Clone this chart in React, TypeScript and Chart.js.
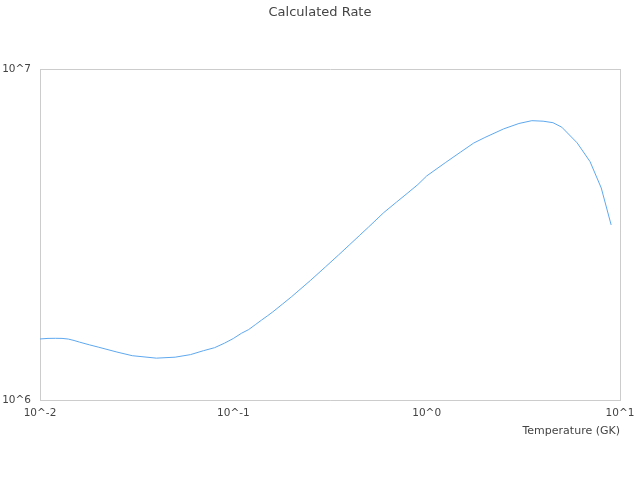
import { Chart, registerables } from "chart.js";
import { useEffect, useRef } from "react";

Chart.register(...registerables);

// temperature grid (GK) and the rate at each point
const temperatures = [
  0.01, 0.011, 0.012, 0.013, 0.014, 0.015, 0.016, 0.018, 0.02, 0.025, 0.03,
  0.04, 0.05, 0.06, 0.07, 0.08, 0.09, 0.1, 0.11, 0.12, 0.13, 0.14, 0.15, 0.16,
  0.18, 0.2, 0.25, 0.3, 0.35, 0.4, 0.45, 0.5, 0.6, 0.7, 0.8, 0.9, 1, 1.25,
  1.5, 1.75, 2, 2.5, 3, 3.5, 4, 4.5, 5, 6, 7, 8, 9,
];
const rates = [
  1.529e6, 1.535e6, 1.536e6, 1.535e6, 1.528e6, 1.513e6, 1.496e6, 1.468e6,
  1.445e6, 1.396e6, 1.361e6, 1.338e6, 1.347e6, 1.371e6, 1.409e6, 1.439e6,
  1.485e6, 1.534e6, 1.59e6, 1.632e6, 1.689e6, 1.744e6, 1.795e6, 1.846e6,
  1.951e6, 2.051e6, 2.295e6, 2.526e6, 2.742e6, 2.948e6, 3.143e6, 3.329e6,
  3.683e6, 3.967e6, 4.227e6, 4.475e6, 4.751e6, 5.214e6, 5.614e6, 5.973e6,
  6.21e6, 6.592e6, 6.845e6, 6.98e6, 6.956e6, 6.884e6, 6.671e6, 5.984e6,
  5.25e6, 4.37e6, 3.38e6,
];
const xTicks = [0.01, 0.1, 1, 10];
const yTicks = [1e6, 1e7];

const textColor = "#444444";
const borderColor = "#cccccc";

const powerLabel = (v: number) => "10^" + Math.round(Math.log10(v));

export default function App() {
  const chartRef = useRef<HTMLCanvasElement | null>(null);
  const chartInstance = useRef<Chart | null>(null);

  useEffect(() => {
    document.body.style.margin = "0";
    if (!chartRef.current) return;
    const ctx = chartRef.current.getContext("2d");
    if (!ctx) return;
    if (chartInstance.current) chartInstance.current.destroy();

    Chart.defaults.font.family = "'DejaVu Sans', sans-serif";
    Chart.defaults.color = textColor;

    chartInstance.current = new Chart(ctx, {
      type: "line",
      data: {
        datasets: [
          {
            label: "Rate",
            data: temperatures.map((t, i) => ({ x: t, y: rates[i] })),
            borderColor: "#5ea8ef",
            borderWidth: 1,
            pointRadius: 0,
            tension: 0,
            fill: false,
          },
        ],
      },
      options: {
        responsive: true,
        maintainAspectRatio: false,
        animation: false,
        layout: { padding: 0 },
        plugins: {
          legend: { display: false },
          tooltip: { enabled: false },
          title: {
            display: true,
            text: "Calculated Rate",
            color: textColor,
            font: { size: 13, weight: "normal" },
            padding: { top: 4.5, bottom: 48.9 },
          },
        },
        scales: {
          x: {
            type: "logarithmic",
            min: 0.01,
            max: 10,
            afterBuildTicks: (scale: any) => {
              scale.ticks = xTicks.map((v) => ({ value: v }));
            },
            afterFit: (scale: any) => {
              scale.height = 80;
              scale.paddingLeft = 0;
              scale.paddingRight = 20;
            },
            ticks: {
              autoSkip: false,
              maxRotation: 0,
              padding: 7,
              color: textColor,
              font: { size: 10.5 },
              callback: (v: any) => powerLabel(Number(v)),
            },
            grid: {
              drawTicks: false,
              color: (c: any) =>
                c.index === 0 || c.index === xTicks.length - 1
                  ? borderColor
                  : "rgba(0,0,0,0)",
            },
            border: { display: true, color: borderColor },
            title: {
              display: true,
              text: "Temperature (GK)",
              align: "end",
              color: textColor,
              font: { size: 11 },
              padding: { top: 0, bottom: 42.4 },
            },
          },
          y: {
            type: "logarithmic",
            min: 1e6,
            max: 1e7,
            afterBuildTicks: (scale: any) => {
              scale.ticks = yTicks.map((v) => ({ value: v }));
            },
            afterFit: (scale: any) => {
              scale.width = 40;
            },
            ticks: {
              autoSkip: false,
              padding: 9,
              color: textColor,
              font: { size: 10.5 },
              callback: (v: any) => powerLabel(Number(v)),
            },
            grid: {
              drawTicks: false,
              color: borderColor,
            },
            border: { display: true, color: borderColor },
          },
        },
      },
    } as any);

    return () => {
      if (chartInstance.current) {
        chartInstance.current.destroy();
        chartInstance.current = null;
      }
    };
  }, []);

  return (
    <div style={{ position: "relative", width: "640px", height: "480px" }}>
      <canvas ref={chartRef}></canvas>
    </div>
  );
}
